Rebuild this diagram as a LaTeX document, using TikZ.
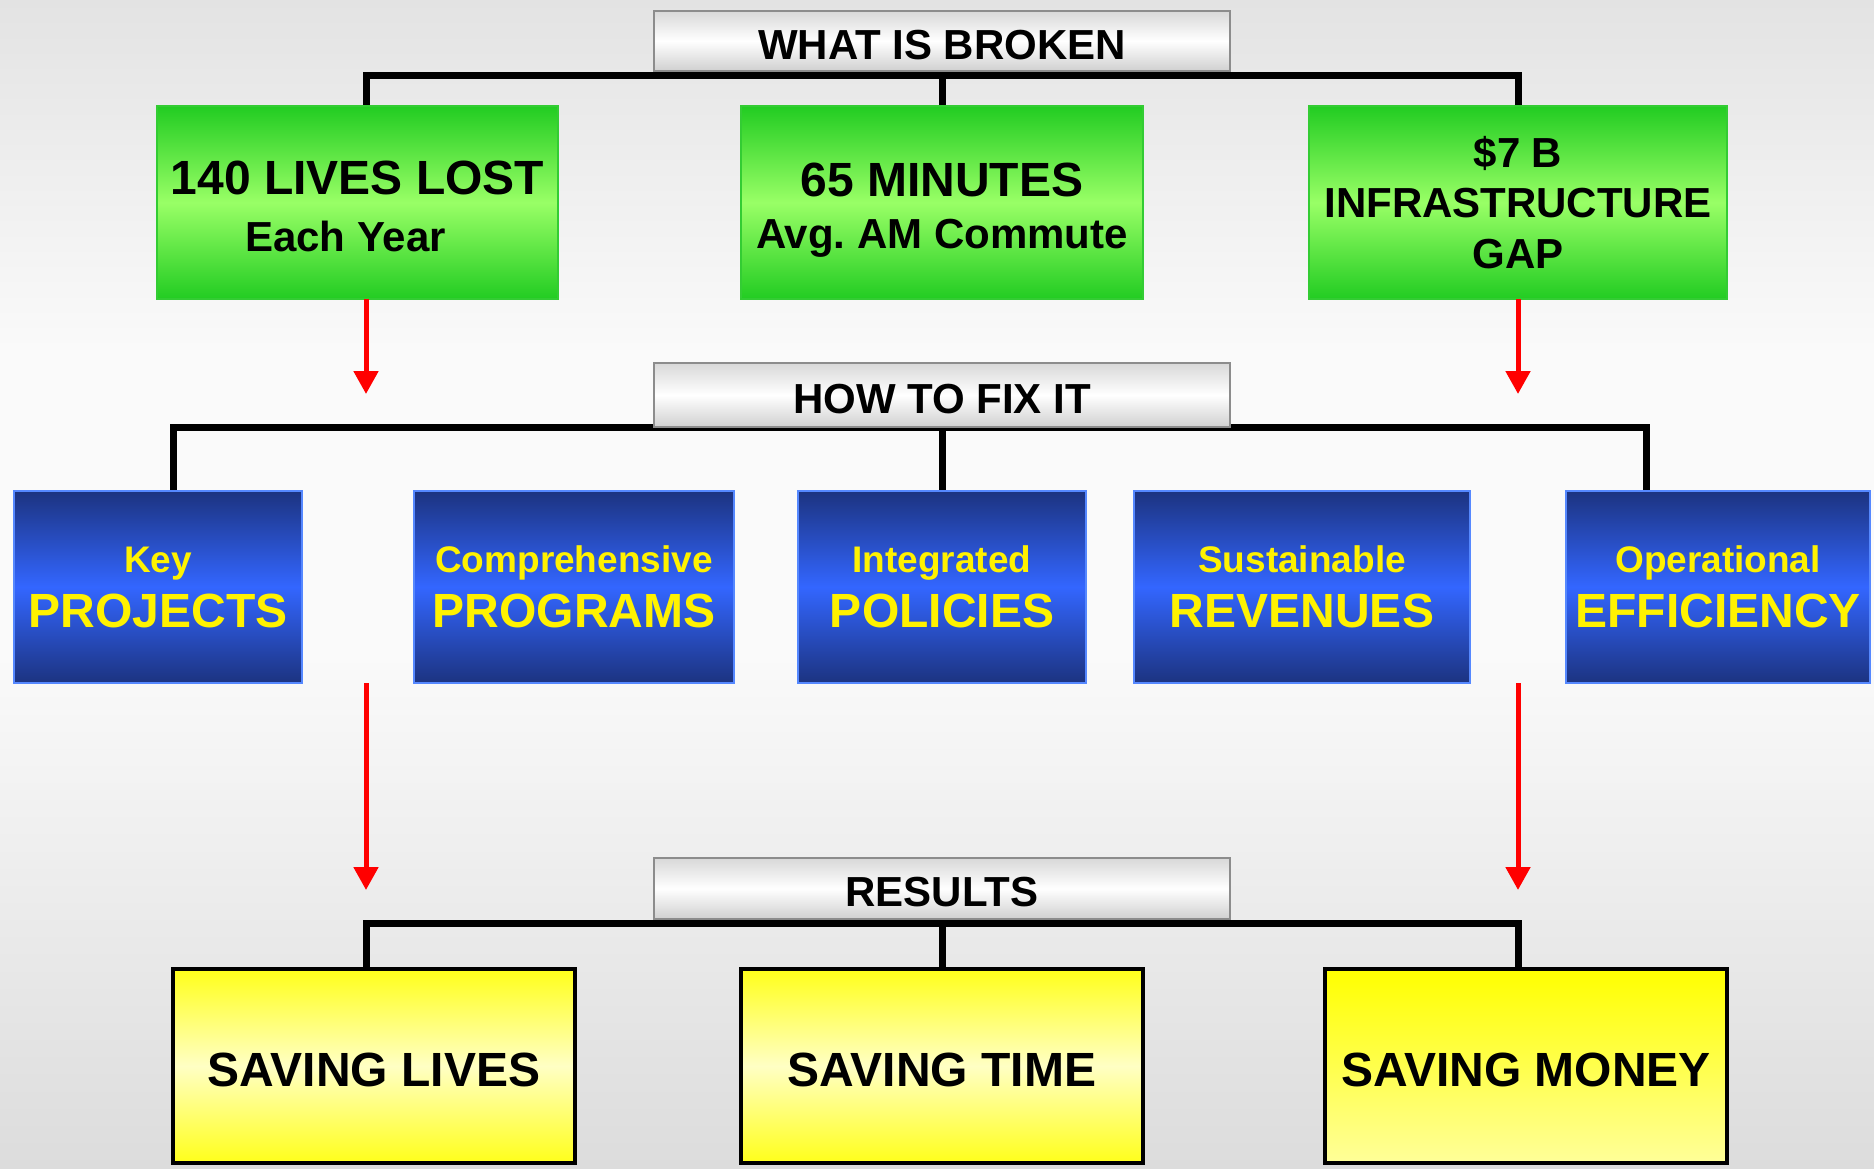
\documentclass[tikz,border=0pt]{standalone}
\usepackage{fontspec}
\setmainfont{Liberation Sans}
\usetikzlibrary{arrows.meta}
\definecolor{bgT}{HTML}{E3E3E3}
\definecolor{bgM}{HTML}{FAFAFA}
\definecolor{bgB}{HTML}{DCDCDC}
\definecolor{grnT}{HTML}{22CC22}
\definecolor{grnM}{HTML}{99FF66}
\definecolor{grnB}{HTML}{33CC33}
\definecolor{bluT}{HTML}{1C3380}
\definecolor{bluM}{HTML}{3366FF}
\definecolor{bluB}{HTML}{5588FF}
\definecolor{ylwT}{HTML}{FFFF1A}
\definecolor{ylwM}{HTML}{FFFFC4}
\definecolor{ylwP}{HTML}{FFFF99}
\definecolor{lblT}{HTML}{D8D8D8}
\definecolor{lblB}{HTML}{D0D0D0}
\definecolor{lblD}{HTML}{8C8C8C}
\definecolor{arrowred}{HTML}{FF0000}
\pgfdeclareverticalshading{bgshade}{100bp}{color(0bp)=(bgB); color(25bp)=(bgB); color(47bp)=(bgM); color(60bp)=(bgM); color(75bp)=(bgT); color(100bp)=(bgT)}
\pgfdeclarelayer{back}
\pgfdeclarelayer{mid}
\pgfsetlayers{back,mid,main}
\newcommand\tsize[2]{\fontsize{#1}{#2}\selectfont}
\frenchspacing

\begin{document}
\begin{tikzpicture}[x=1pt,y=-1pt,
 box/.style={draw, line width=2pt, inner sep=0pt, outer sep=0pt, align=center, font=\bfseries},
 lbl/.style={box, draw=lblD, top color=lblT, bottom color=lblB, middle color=white, minimum width=576pt, text height=36pt, text depth=0pt, font=\bfseries\tsize{42pt}{50pt}},
 greenbox/.style={box, draw=grnB, top color=grnT, bottom color=grnT, middle color=grnM, minimum height=193pt},
 bluebox/.style={box, draw=bluB, top color=bluT, bottom color=bluT, middle color=bluM, minimum height=192pt, text=yellow, font=\bfseries\tsize{37pt}{55pt}},
 yellowbox/.style={box, draw=black, line width=4pt, minimum width=402pt, minimum height=194pt, text height=40pt, text depth=0pt, font=\bfseries\tsize{48pt}{57pt}},
 bar/.style={line width=7pt, draw=black},
 redarrow/.style={draw=arrowred, line width=5pt, -{Triangle[width=24pt,length=23pt]}}
]
\useasboundingbox (0,0) rectangle (1874,1168);
\begin{pgfonlayer}{back}
\path[shading=bgshade] (0,0) rectangle (1874,1168);
\end{pgfonlayer}

% top level
\node[lbl, minimum height=60pt] (broken) at (942,41) {WHAT IS BROKEN};
\node[greenbox, minimum width=401pt, font=\bfseries\tsize{42pt}{57pt}] (g1) at (357.5,202.5)
  {{\tsize{48pt}{57pt}\rule{0pt}{40.5pt}140 LIVES LOST}\\Each Year\hspace*{24pt}};
\node[greenbox, minimum width=402pt, font=\bfseries\tsize{42pt}{52pt}] (g2) at (942,202.5)
  {{\tsize{48pt}{52pt}\rule{0pt}{48pt}65 MINUTES}\\Avg. AM Commute};
\node[greenbox, minimum width=418pt, font=\bfseries\tsize{42pt}{50.5pt}] (g3) at (1518,202.5)
  {\$7 B\\INFRASTRUCTURE\\GAP};

% middle level
\node[lbl, minimum height=64pt] (fix) at (942,395) {HOW TO FIX IT};
\node[bluebox, minimum width=288pt] (b1) at (158,587) {Key\\{\tsize{48pt}{55pt}PROJECTS}};
\node[bluebox, minimum width=320pt] (b2) at (574,587) {Comprehensive\\{\tsize{48pt}{55pt}PROGRAMS}};
\node[bluebox, minimum width=288pt] (b3) at (942,587) {Integrated\\{\tsize{48pt}{55pt}POLICIES}};
\node[bluebox, minimum width=336pt] (b4) at (1302,587) {Sustainable\\{\tsize{48pt}{55pt}REVENUES}};
\node[bluebox, minimum width=304pt] (b5) at (1718,587) {Operational\\{\tsize{48pt}{55pt}EFFICIENCY}};

% bottom level
\node[lbl, minimum height=61pt] (results) at (942,888.5) {RESULTS};
\node[yellowbox, top color=ylwT, bottom color=ylwT, middle color=ylwM] (y1) at (374,1066) {SAVING LIVES};
\node[yellowbox, top color=ylwT, bottom color=ylwT, middle color=ylwM] (y2) at (942,1066) {SAVING TIME};
\node[yellowbox, top color=yellow, bottom color=ylwP] (y3) at (1526,1066) {SAVING MONEY};

% bars
\coordinate (colL) at (366,0);
\coordinate (colR) at (1518,0);
\coordinate (colA) at (173,0);
\coordinate (colE) at (1646,0);
\coordinate (brokenbar) at (942,75);
\coordinate (fixbar) at (942,427);
\coordinate (resbar) at (942,923);
\begin{pgfonlayer}{mid}
\draw[bar] (colL |- g1.north) |- (brokenbar) -| (colR |- g3.north);
\draw[bar] (brokenbar) -- (g2.north);
\draw[bar] (colA |- b1.north) |- (fixbar) -| (colE |- b5.north);
\draw[bar] (fixbar) -- (b3.north);
\draw[bar] (colL |- y1.north) |- (resbar) -| (colR |- y3.north);
\draw[bar] (resbar) -- (y2.north);
\end{pgfonlayer}

% red arrows
\coordinate (tipL1) at (366,394);
\coordinate (tipR1) at (1518,394);
\coordinate (startL2) at (366,683);
\coordinate (startR2) at (1518,683);
\coordinate (tipL2) at (366,890);
\coordinate (tipR2) at (1518,890);
\draw[redarrow] (colL |- g1.south) -- (tipL1);
\draw[redarrow] (colR |- g3.south) -- (tipR1);
\draw[redarrow] (startL2) -- (tipL2);
\draw[redarrow] (startR2) -- (tipR2);
\end{tikzpicture}
\end{document}
